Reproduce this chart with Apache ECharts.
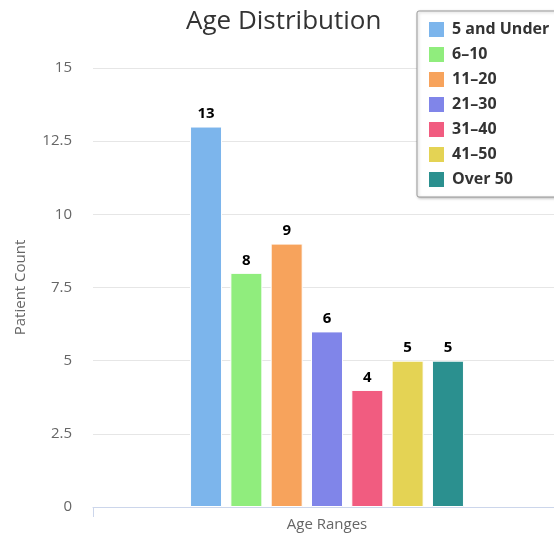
<!DOCTYPE html>
<html lang="en">
<head>
    <meta charset="UTF-8">
    <title>Age Distribution</title>
    <script src="https://cdn.jsdelivr.net/npm/echarts@6/dist/echarts.min.js"></script>
    <style>
        html, body { margin: 0; padding: 0; background: #fff; }
        #container { width: 554px; height: 535px; }
    </style>
</head>
<body>
    <div id="container"></div>
    <script type="text/javascript">
        var categories = ['Age Ranges'];
        var groupNames = ['5 and Under', '6–10', '11–20', '21–30', '31–40', '41–50', 'Over 50'];
        var patientCounts = [13, 8, 9, 6, 4, 5, 5];
        var yTicks = { min: 0, max: 15, step: 2.5 };
        var palette = ['#7cb5ec', '#90ed7d', '#f7a35c', '#8085e9', '#f15c80', '#e4d354', '#2b908f'];

        var myChart = echarts.init(document.getElementById('container'), null, { renderer: 'canvas' });
        var font = '"Open Sans", sans-serif';

        var series = groupNames.map(function (name, i) {
            return {
                name: name,
                type: 'bar',
                data: [patientCounts[i]],
                barWidth: 32,
                barGap: '26%',
                itemStyle: { color: palette[i], borderColor: '#fff', borderWidth: 1 },
                label: {
                    show: true,
                    position: 'top',
                    distance: 5,
                    fontFamily: font,
                    fontSize: 15,
                    fontWeight: 'bold',
                    color: '#000',
                    textBorderColor: '#fff',
                    textBorderWidth: 2
                }
            };
        });

        var option = {
            animation: false,
            title: {
                text: 'Age Distribution',
                left: 181,
                top: 4,
                textStyle: { fontFamily: font, fontSize: 26, fontWeight: 'normal', color: '#333' }
            },
            legend: {
                orient: 'vertical',
                left: 417,
                top: 11,
                padding: [9, 12, 8, 10],
                itemWidth: 17,
                itemHeight: 17,
                itemGap: 6,
                icon: 'rect',
                borderColor: '#999',
                borderWidth: 1,
                borderRadius: 2,
                backgroundColor: '#fff',
                shadowColor: 'rgba(0,0,0,0.25)',
                shadowBlur: 3,
                shadowOffsetX: 1,
                shadowOffsetY: 1,
                textStyle: { fontFamily: font, fontSize: 16, fontWeight: 'bold', color: '#333', padding: [0, 0, 0, 2], lineHeight: 19 },
                data: groupNames
            },
            grid: { left: 93, right: -7, top: 68, bottom: 28, outerBoundsMode: 'none' },
            xAxis: {
                type: 'category',
                data: categories,
                axisLine: { lineStyle: { color: '#ccd6eb' } },
                axisTick: { show: true, length: 10, lineStyle: { color: '#ccd6eb' } },
                axisLabel: { fontFamily: font, fontSize: 15, color: '#666', margin: 10 }
            },
            yAxis: {
                type: 'value',
                min: yTicks.min,
                max: yTicks.max,
                interval: yTicks.step,
                name: 'Patient Count',
                nameLocation: 'middle',
                nameGap: 65,
                nameTextStyle: { fontFamily: font, fontSize: 15, color: '#666' },
                axisLine: { show: false },
                axisTick: { show: false },
                axisLabel: { fontFamily: font, fontSize: 15, color: '#666', margin: 21 },
                splitLine: { lineStyle: { color: '#e6e6e6' } }
            },
            series: series
        };

        myChart.setOption(option);
        window.addEventListener('resize', myChart.resize);
    </script>
</body>
</html>
